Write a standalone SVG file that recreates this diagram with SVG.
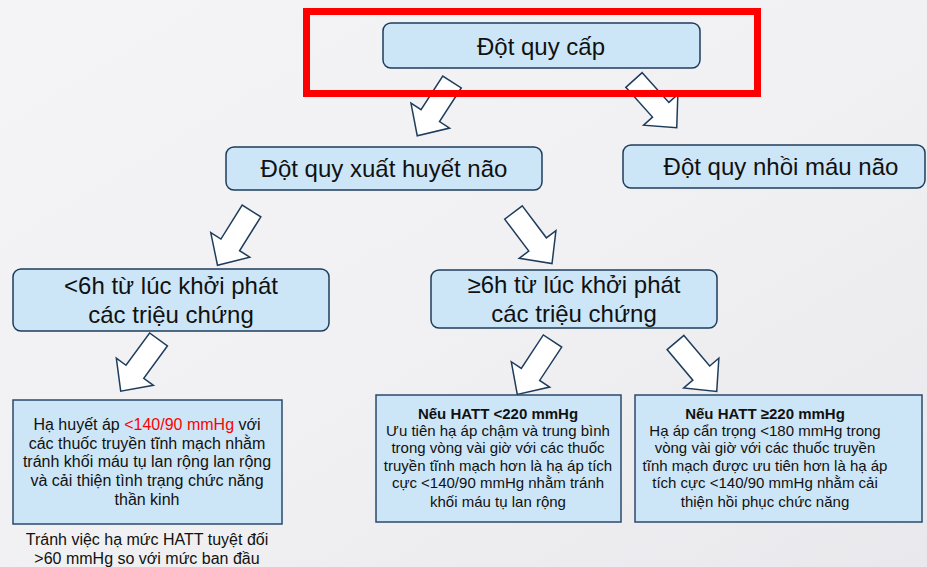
<svg xmlns="http://www.w3.org/2000/svg" width="927" height="567" viewBox="0 0 927 567">
<defs>
<linearGradient id="bg" x1="0" y1="0" x2="1" y2="1">
<stop offset="0" stop-color="#f4f4f6"/>
<stop offset="0.5" stop-color="#f1f1f3"/>
<stop offset="1" stop-color="#e9e9ed"/>
</linearGradient>
<polygon id="arr" points="0,-11 40,-11 40,-23 64,0 40,23 40,11 0,11"/>
</defs>
<style>
.box{fill:#cde6f7;stroke:#1e3d5c;stroke-width:1.5}
.rbox{fill:#cde6f7;stroke:#2a4a6b;stroke-width:1.5}
.t{font-family:"Liberation Sans",Arial,sans-serif;fill:#111;text-anchor:middle}
.big{font-size:24px}
.sm{font-size:15px}
.md{font-size:16px}
.arrow use{fill:#ffffff;stroke:#1e3d5c;stroke-width:1.5;stroke-linejoin:miter}
</style>
<rect x="0" y="0" width="927" height="567" fill="url(#bg)"/>
<g class="arrow" id="connectors">
<use href="#arr" transform="translate(452,82) rotate(122.9)"/>
<use href="#arr" transform="translate(634,80) rotate(48.1)"/>
<use href="#arr" transform="translate(251.5,211) rotate(122.1)"/>
<use href="#arr" transform="translate(513.5,212.5) rotate(53)"/>
<use href="#arr" transform="translate(158.5,339.5) rotate(126.2)"/>
<use href="#arr" transform="translate(552.5,341) rotate(123.4)"/>
<use href="#arr" transform="translate(675.5,342.5) rotate(49.9)"/>
</g>
<g id="n-acute">
<rect class="box" x="383" y="23" width="317" height="45" rx="8"/>
<text class="t big" x="541" y="55">Đột quy cấp</text>
</g>
<g id="n-hemorrhagic">
<rect class="box" x="226" y="147" width="316" height="43" rx="8"/>
<text class="t big" x="384" y="177">Đột quy xuất huyết não</text>
</g>
<g id="n-ischemic">
<rect class="box" x="623" y="145" width="302" height="43" rx="8"/>
<text class="t big" x="781" y="175">Đột quy nhồi máu não</text>
</g>
<g id="n-lt6h">
<rect class="box" x="13" y="269" width="316" height="62" rx="8"/>
<text class="t big" x="171" y="294">&lt;6h từ lúc khởi phát</text>
<text class="t big" x="171" y="323">các triệu chứng</text>
</g>
<g id="n-ge6h">
<rect class="box" x="431" y="270" width="286" height="58" rx="8"/>
<text class="t big" x="574" y="293">≥6h từ lúc khởi phát</text>
<text class="t big" x="574" y="322">các triệu chứng</text>
</g>
<g id="n-left">
<rect class="rbox" x="13" y="400" width="269" height="124"/>
<text class="t md" x="147" y="430">Hạ huyết áp <tspan fill="#ff0000">&lt;140/90 mmHg</tspan> với</text>
<text class="t md" x="147" y="449">các thuốc truyền tĩnh mạch nhằm</text>
<text class="t md" x="147" y="467">tránh khối máu tụ lan rộng lan rộng</text>
<text class="t md" x="147" y="486">và cải thiện tình trạng chức năng</text>
<text class="t md" x="147" y="505">thần kinh</text>
</g>
<g id="n-note">
<text class="t md" x="147" y="545">Tránh việc hạ mức HATT tuyệt đối</text>
<text class="t md" x="147" y="564">&gt;60 mmHg so với mức ban đầu</text>
</g>
<g id="n-lt220">
<rect class="rbox" x="376" y="395" width="245" height="127"/>
<text class="t sm" x="498" y="419" font-weight="bold">Nếu HATT  &lt;220 mmHg</text>
<text class="t sm" x="498" y="436">Ưu tiên hạ áp chậm và trung bình</text>
<text class="t sm" x="498" y="453">trong vòng vài giờ với các thuốc</text>
<text class="t sm" x="498" y="471">truyền tĩnh mạch hơn là hạ áp tích</text>
<text class="t sm" x="498" y="488">cực &lt;140/90 mmHg nhằm tránh</text>
<text class="t sm" x="498" y="507">khối máu tụ lan rộng</text>
</g>
<g id="n-ge220">
<rect class="rbox" x="635" y="395" width="287" height="127"/>
<text class="t sm" x="765" y="419" font-weight="bold">Nếu HATT ≥220 mmHg</text>
<text class="t sm" x="765" y="436">Hạ áp cẩn trọng &lt;180 mmHg trong</text>
<text class="t sm" x="765" y="453">vòng vài giờ với các thuốc truyền</text>
<text class="t sm" x="765" y="471">tĩnh mạch được ưu tiên hơn là hạ áp</text>
<text class="t sm" x="765" y="488">tích cực &lt;140/90 mmHg nhằm cải</text>
<text class="t sm" x="765" y="507">thiện hồi phục chức năng</text>
</g>
<rect id="highlight" x="306.5" y="11.5" width="451" height="82" fill="none" stroke="#ff0000" stroke-width="7"/>
</svg>
